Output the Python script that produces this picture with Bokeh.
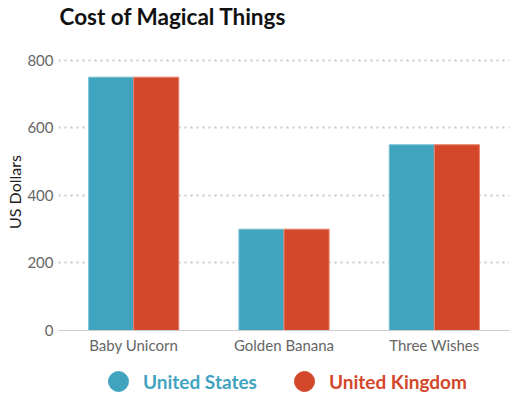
from bokeh.plotting import figure
from bokeh.layouts import column
from bokeh.models import ColumnDataSource, FixedTicker, Range1d, Legend, LegendItem, Title
from bokeh.transform import dodge
from bokeh.embed import file_html
from bokeh.resources import INLINE

# ---- data ----
categories = ["Baby Unicorn", "Golden Banana", "Three Wishes"]
series = ["United States", "United Kingdom"]
us_values = [750, 300, 550]
uk_values = [750, 300, 550]
y_ticks = [0, 200, 400, 600, 800]
grid_ticks = [200, 400, 600, 800]

US_COLOR = "#41a4bf"
UK_COLOR = "#d3472b"
FONT = "Lato"

src = ColumnDataSource(dict(cat=categories, us=us_values, uk=uk_values))

p = figure(
    x_range=categories, y_range=Range1d(0, 820),
    width=512, height=360, output_backend="svg", toolbar_location=None,
    min_border_left=58, min_border_right=3, min_border_top=0, min_border_bottom=30,
)
p.x_range.range_padding = 0
p.outline_line_color = None

p.title.text = "Cost of Magical Things"
p.title.text_font = FONT
p.title.text_font_size = "22.5px"
p.title.text_font_style = "bold"
p.title.text_color = "#111111"
p.title.align = "left"
p.title.standoff = 0
p.title.offset = 1

# spacer between the title and the plot frame
p.add_layout(Title(text=" ", text_font_size="1px", standoff=21), "above")

p.vbar(x=dodge("cat", -0.15, range=p.x_range), top="us", width=0.3, source=src,
       fill_color=US_COLOR, line_color="#7cc3d6", line_width=1)
p.vbar(x=dodge("cat", 0.15, range=p.x_range), top="uk", width=0.3, source=src,
       fill_color=UK_COLOR, line_color="#e8836e", line_width=1)

# axes
for ax in (p.xaxis, p.yaxis):
    ax.major_tick_out = 0
    ax.major_tick_in = 0
    ax.minor_tick_out = 0
    ax.minor_tick_in = 0
    ax.major_tick_line_color = None
    ax.minor_tick_line_color = None
    ax.major_label_text_font = FONT
    ax.major_label_text_font_size = "15px"
    ax.major_label_text_color = "#666666"

p.xaxis.axis_line_color = "#cccccc"
p.xaxis.major_label_standoff = 5

p.yaxis.ticker = FixedTicker(ticks=y_ticks)
p.yaxis.axis_line_color = None
p.yaxis.major_label_standoff = 5
p.yaxis.axis_label = "US Dollars"
p.yaxis.axis_label_text_font = FONT
p.yaxis.axis_label_text_font_size = "16px"
p.yaxis.axis_label_text_font_style = "normal"
p.yaxis.axis_label_text_color = "#222222"
p.yaxis.axis_label_standoff = 0

p.xgrid.grid_line_color = None
p.ygrid.ticker = FixedTicker(ticks=grid_ticks)
p.ygrid.grid_line_color = "#c8c8c8"
p.ygrid.grid_line_width = 2
p.ygrid.grid_line_dash = "2 4"

# ---- legend strip ----
leg = figure(width=512, height=36, output_backend="svg", toolbar_location=None,
             x_range=Range1d(0, 1), y_range=Range1d(0, 1),
             x_axis_type=None, y_axis_type=None,
             min_border_left=0, min_border_right=0, min_border_top=0, min_border_bottom=0)
leg.outline_line_color = None
leg.xgrid.visible = False
leg.ygrid.visible = False

# hidden anchor points (outside the visible range) so the legend can draw circles
us_dot = leg.scatter(x=[-5], y=[-5], marker="circle", fill_color=US_COLOR, line_color=US_COLOR)
uk_dot = leg.scatter(x=[-5], y=[-5], marker="circle", fill_color=UK_COLOR, line_color=UK_COLOR)

for name, rend, color, loc in [(series[0], us_dot, US_COLOR, (35, -10)),
                               (series[1], uk_dot, UK_COLOR, (221, -10))]:
    lg = Legend(items=[LegendItem(label=name, renderers=[rend])], location=loc,
                orientation="horizontal", glyph_width=50, glyph_height=50,
                label_standoff=-19, padding=0, margin=0, spacing=0,
                border_line_color=None, background_fill_alpha=0,
                label_text_font=FONT, label_text_font_size="19px",
                label_text_font_style="bold", label_text_color=color,
                label_height=50)
    leg.add_layout(lg, "center")

layout = column(p, leg, spacing=0)
open("out.html", "w").write(file_html(layout, INLINE))
